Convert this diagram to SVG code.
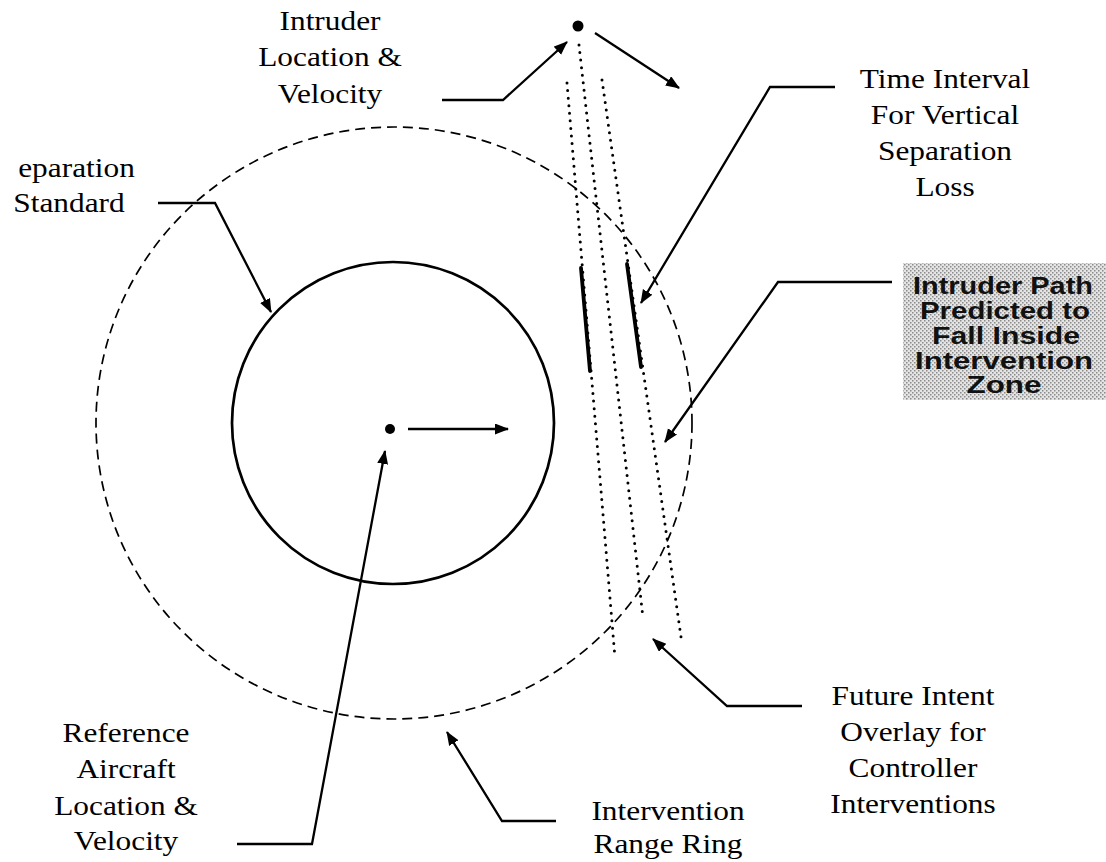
<svg xmlns="http://www.w3.org/2000/svg" width="1106" height="862" viewBox="0 0 1106 862">
  <style>
    .lbl { font-family: "Liberation Serif", "Times New Roman", serif; font-size: 28px; fill: #000; text-anchor: middle; }
    .box { font-family: "Liberation Sans", Arial, sans-serif; font-size: 23px; font-weight: bold; fill: #111; text-anchor: middle; }
    .lead { fill: none; stroke: #000; stroke-width: 2.3; stroke-linejoin: miter; marker-end: url(#head); }
    .track { fill: none; stroke: #000; stroke-width: 3; stroke-dasharray: 0 7.6; stroke-linecap: round; }
    .window { stroke: #000; stroke-width: 3.8; stroke-linecap: round; }
  </style>
  <defs>
    <marker id="head" markerUnits="userSpaceOnUse" markerWidth="16" markerHeight="13" refX="13" refY="5.5" orient="auto">
      <path d="M0,0 L14,5.5 L0,11 z" fill="#000"/>
    </marker>
    <pattern id="halftone" width="4" height="4" patternUnits="userSpaceOnUse">
      <rect width="4" height="4" fill="#e4e4e4"/>
      <rect x="0" y="0" width="1.5" height="1.5" fill="#8a8a8a"/>
      <rect x="2" y="2" width="1.5" height="1.5" fill="#8a8a8a"/>
    </pattern>
  </defs>

  <rect width="1106" height="862" fill="#fff"/>

  <!-- range rings around the reference aircraft -->
  <g id="intervention-ring">
    <ellipse cx="394" cy="423" rx="298" ry="296" fill="none" stroke="#000" stroke-width="1.7" stroke-dasharray="10 6"/>
  </g>
  <g id="separation-ring">
    <circle cx="393" cy="423" r="161" fill="none" stroke="#000" stroke-width="2.7"/>
  </g>

  <!-- reference aircraft: position and velocity vector -->
  <g id="reference-aircraft">
    <circle cx="390" cy="429" r="5" fill="#000"/>
    <line x1="408" y1="429" x2="508" y2="429" class="lead"/>
  </g>

  <!-- intruder: position, velocity vector and future intent overlay -->
  <g id="intruder">
    <circle cx="578" cy="26" r="5.5" fill="#000"/>
    <line x1="595" y1="33" x2="679" y2="88" class="lead"/>
  </g>
  <g id="intent-overlay">
    <line x1="567" y1="83" x2="615" y2="658" class="track"/>
    <line x1="579" y1="45" x2="643" y2="618" class="track"/>
    <line x1="602" y1="80" x2="681" y2="637" class="track"/>
    <line x1="581" y1="268" x2="590" y2="371" class="window"/>
    <line x1="627" y1="264" x2="641" y2="367" class="window"/>
  </g>

  <!-- labels -->
  <g id="label-intruder" transform="translate(330,0) scale(1.12,1)">
    <text class="lbl" x="0" y="30">Intruder</text>
    <text class="lbl" x="0" y="66">Location &amp;</text>
    <text class="lbl" x="0" y="103">Velocity</text>
  </g>
  <g id="label-separation">
    <text class="lbl" transform="translate(76.5,0) scale(1.12,1)" x="0" y="177">eparation</text>
    <text class="lbl" transform="translate(69,0) scale(1.12,1)" x="0" y="212">Standard</text>
  </g>
  <g id="label-time-interval" transform="translate(945,0) scale(1.12,1)">
    <text class="lbl" x="0" y="88">Time Interval</text>
    <text class="lbl" x="0" y="124">For Vertical</text>
    <text class="lbl" x="0" y="160">Separation</text>
    <text class="lbl" x="0" y="196">Loss</text>
  </g>
  <g id="label-predicted-path">
    <rect x="903" y="263" width="203" height="137" fill="url(#halftone)"/>
    <text class="box" x="1003" y="294" textLength="180" lengthAdjust="spacingAndGlyphs">Intruder Path</text>
    <text class="box" x="1005" y="319" textLength="170" lengthAdjust="spacingAndGlyphs">Predicted to</text>
    <text class="box" x="1006" y="344" textLength="148" lengthAdjust="spacingAndGlyphs">Fall Inside</text>
    <text class="box" x="1004" y="369" textLength="178" lengthAdjust="spacingAndGlyphs">Intervention</text>
    <text class="box" x="1004" y="393" textLength="75" lengthAdjust="spacingAndGlyphs">Zone</text>
  </g>
  <g id="label-reference" transform="translate(126,0) scale(1.12,1)">
    <text class="lbl" x="0" y="742">Reference</text>
    <text class="lbl" x="0" y="778">Aircraft</text>
    <text class="lbl" x="0" y="815">Location &amp;</text>
    <text class="lbl" x="0" y="850">Velocity</text>
  </g>
  <g id="label-range-ring" transform="translate(668,0) scale(1.12,1)">
    <text class="lbl" x="0" y="820">Intervention</text>
    <text class="lbl" x="0" y="853">Range Ring</text>
  </g>
  <g id="label-future-intent" transform="translate(913,0) scale(1.12,1)">
    <text class="lbl" x="0" y="705">Future Intent</text>
    <text class="lbl" x="0" y="741">Overlay for</text>
    <text class="lbl" x="0" y="777">Controller</text>
    <text class="lbl" x="0" y="813">Interventions</text>
  </g>

  <!-- leader lines from labels to their features -->
  <g id="leaders">
    <polyline class="lead" points="442,100 503,100 567,42"/>
    <polyline class="lead" points="158,203 215,203 271,312"/>
    <polyline class="lead" points="835,87 770,87 641,303"/>
    <polyline class="lead" points="892,282 778,282 665,442"/>
    <polyline class="lead" points="802,706 727,706 653,639"/>
    <polyline class="lead" points="556,821 502,821 447,732"/>
    <polyline class="lead" points="237,844 312,844 385,451"/>
  </g>
</svg>
